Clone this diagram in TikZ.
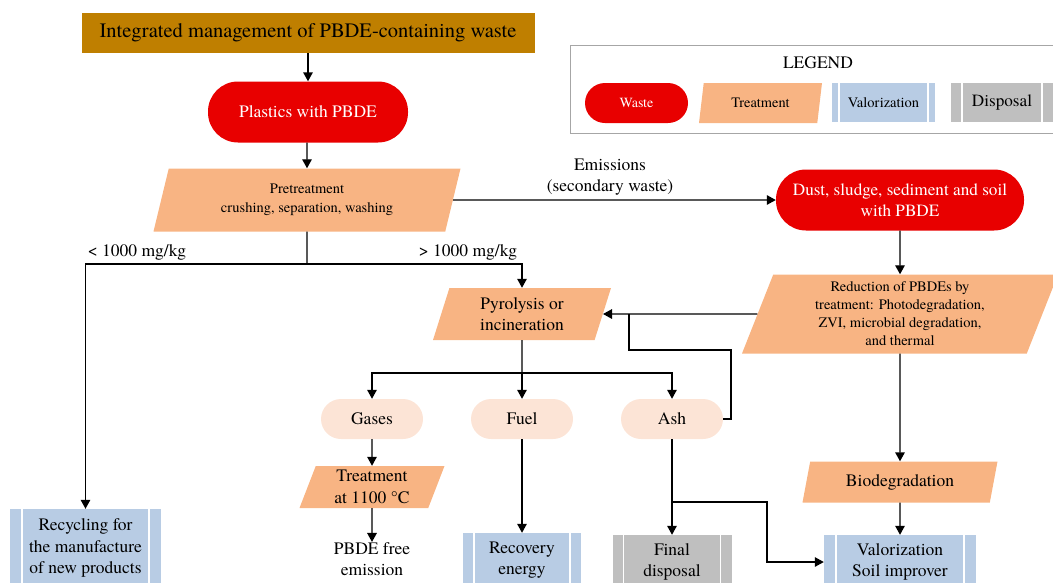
\documentclass[tikz,border=0pt]{standalone}
\usepackage{fontspec}
\setmainfont{TeX Gyre Termes}
\usetikzlibrary{shapes.geometric,arrows.meta}
\definecolor{titlec}{HTML}{BF7F00}
\definecolor{wastec}{HTML}{E80000}
\definecolor{treatc}{HTML}{F8B483}
\definecolor{prodc}{HTML}{FCE4D6}
\definecolor{valc}{HTML}{B8CCE4}
\definecolor{dispc}{HTML}{BFBFBF}
\definecolor{legc}{HTML}{A6A6A6}
\tikzset{
  base/.style={inner sep=0pt, align=center, font=\fontsize{17.5}{21.5}\selectfont},
  titlebox/.style={base, fill=titlec, font=\fontsize{20.5}{24}\selectfont},
  pill/.style={base, fill=wastec, text=white, rounded corners=#1},
  prodpill/.style={base, fill=prodc, rounded corners=20pt, minimum width=102pt, minimum height=40pt},
  treatbox/.style={base, fill=treatc, shape=trapezium, trapezium left angle=64, trapezium right angle=116, trapezium stretches body},
  procbox/.style={base, path picture={
     \draw[white, line width=1.6pt]
       ([xshift=#1]path picture bounding box.north west) -- ([xshift=#1]path picture bounding box.south west)
       ([xshift=-#1]path picture bounding box.north east) -- ([xshift=-#1]path picture bounding box.south east);}},
  valbox/.style={procbox=#1, fill=valc},
  dispbox/.style={procbox=#1, fill=dispc},
  conn/.style={line width=1.4pt},
  arr/.style={conn, -{Triangle[length=9pt,width=9.5pt]}},
  lbl/.style={base}
}
\begin{document}
\begin{tikzpicture}[x=1pt,y=-1pt]
\useasboundingbox (0,0) rectangle (1053,582);
\clip (0,0) rectangle (1053,582);

% legend
\draw[legc, line width=0.9pt] (570,45) rectangle (1090,133);
\node[lbl] (legt) at (818,63) {LEGEND};
\node[pill=20pt, minimum width=103pt, minimum height=40pt, font=\fontsize{14}{17}\selectfont] (lwaste) at (636.5,103) {Waste};
\node[treatbox, minimum width=123pt, minimum height=40pt, font=\fontsize{14.4}{17}\selectfont] (ltreat) at (760.5,103) {Treatment};
\node[valbox=7pt, minimum width=103pt, minimum height=39pt, font=\fontsize{14.5}{17}\selectfont] (lval) at (883.5,102.5) {Valorization};
\node[dispbox=11pt, minimum width=102pt, minimum height=39pt, font=\fontsize{17.2}{20}\selectfont] (ldisp) at (1002,102.5) {Disposal};

% main flow
\node[titlebox, minimum width=453pt, minimum height=40pt] (title) at (308,33) {Integrated management of PBDE-containing waste};
\node[pill=30pt, minimum width=200pt, minimum height=61pt] (plastics) at (308,112) {Plastics with PBDE};
\node[treatbox, minimum width=307pt, minimum height=63pt, font=\fontsize{14.5}{18.5}\selectfont] (pre) at (307,200) {Pretreatment\\crushing, separation, washing};
\node[pill=30pt, minimum width=248pt, minimum height=61pt, font=\fontsize{17.2}{21}\selectfont] (dust) at (900,200) {Dust, sludge, sediment and soil\\with PBDE};
\node[lbl] (emis) at (610,177) {Emissions\\(secondary waste)};
\node[treatbox, minimum width=316pt, minimum height=79pt, font=\fontsize{14.5}{18}\selectfont] (red) at (900,314) {Reduction of PBDEs by\\treatment: Photodegradation,\\ZVI, microbial degradation,\\and thermal};
\node[treatbox, minimum width=178pt, minimum height=52pt] (pyro) at (522,314) {Pyrolysis or\\incineration};
\node[lbl] (lt) at (137,252) {< 1000 mg/kg};
\node[lbl] (gt) at (468,252) {> 1000 mg/kg};
\node[prodpill] (gases) at (372,419) {Gases};
\node[prodpill] (fuel) at (522,419) {Fuel};
\node[prodpill] (ash) at (672,419) {Ash};
\node[treatbox, minimum width=145pt, minimum height=42pt] (t1100) at (372,487) {Treatment\\at 1100 °C};
\node[lbl] (pfree) at (372,559) {PBDE free\\emission};
\node[valbox=12pt, minimum width=151pt, minimum height=78pt] (recyc) at (85.5,548) {Recycling for\\the manufacture\\of new products};
\node[valbox=11pt, minimum width=118pt, minimum height=54pt] (recov) at (522,560) {Recovery\\energy};
\node[dispbox=11pt, minimum width=119pt, minimum height=54pt] (final) at (672,562) {Final\\disposal};
\node[treatbox, minimum width=195pt, minimum height=41pt] (bio) at (900,482) {Biodegradation};
\node[valbox=12pt, minimum width=152pt, minimum height=54pt] (valor) at (900,562) {Valorization\\Soil improver};

% junction coordinates
\coordinate (j) at (307,264);
\coordinate (s) at (522,373);
\coordinate (fb1) at (731,350);
\coordinate (fb) at (629,314);
\coordinate (k) at (672,502);
\coordinate (k2) at (767,502);

% connectors
\draw[arr] (title.south -| plastics) -- (plastics.north);
\draw[arr] (plastics.south -| pre) -- (pre.north);
\draw[arr] (pre.east) -- (dust.west);
\draw[conn] (pre.south) -- (j);
\draw[arr] (j) -| (pyro.north);
\draw[arr] (j) -| (recyc.north);
\draw[arr] (dust.south) -- (red.north);
\draw[arr] (red.west) -- (pyro.east);
\draw[conn] (ash.east) -| (fb1) -| (fb);
\draw[conn] (pyro.south) -- (s);
\draw[arr] (s) -- (fuel.north);
\draw[arr] (s) -| (gases.north);
\draw[arr] (s) -| (ash.north);
\draw[arr] (gases.south) -- (t1100.north);
\draw[arr] (t1100.south) -- (pfree.north);
\draw[arr] (fuel.south) -- (recov.north);
\draw[arr] (ash.south) -- (final.north);
\draw[arr] (k) -- (k2) |- (valor.west);
\draw[arr] (red.south) -- (bio.north);
\draw[arr] (bio.south) -- (valor.north);
\end{tikzpicture}
\end{document}
